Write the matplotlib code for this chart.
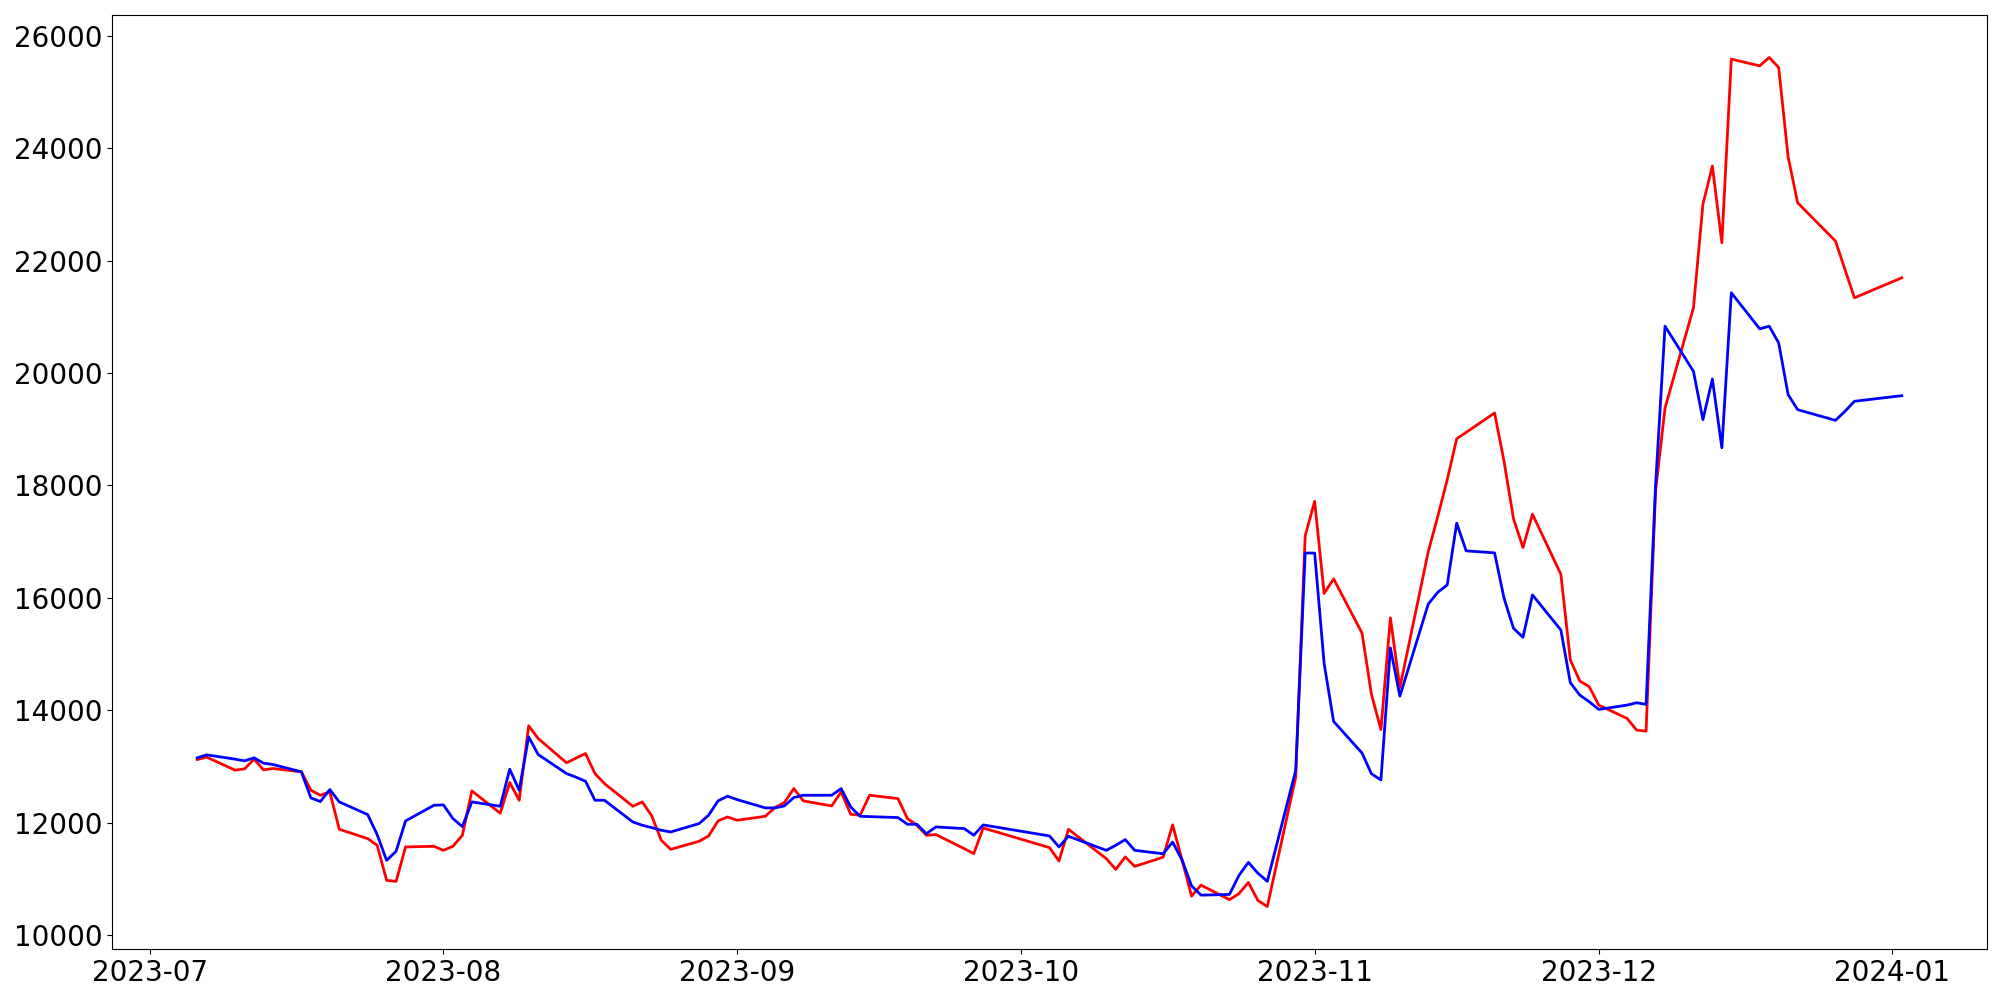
# Importing the libraries
import numpy as np
import pandas as pd
import matplotlib
matplotlib.use("Agg")
import matplotlib.pyplot as plt

# Trading days shown on the chart
dates = [
    "2023-07-06", "2023-07-07", "2023-07-10", "2023-07-11", "2023-07-12", "2023-07-13", "2023-07-14",
    "2023-07-17", "2023-07-18", "2023-07-19", "2023-07-20", "2023-07-21",
    "2023-07-24", "2023-07-25", "2023-07-26", "2023-07-27", "2023-07-28",
    "2023-07-31", "2023-08-01", "2023-08-02", "2023-08-03", "2023-08-04",
    "2023-08-07", "2023-08-08", "2023-08-09", "2023-08-10", "2023-08-11",
    "2023-08-14", "2023-08-15", "2023-08-16", "2023-08-17", "2023-08-18",
    "2023-08-21", "2023-08-22", "2023-08-23", "2023-08-24", "2023-08-25",
    "2023-08-28", "2023-08-29", "2023-08-30", "2023-08-31", "2023-09-01",
    "2023-09-04", "2023-09-05", "2023-09-06", "2023-09-07", "2023-09-08",
    "2023-09-11", "2023-09-12", "2023-09-13", "2023-09-14", "2023-09-15",
    "2023-09-18", "2023-09-19", "2023-09-20", "2023-09-21", "2023-09-22",
    "2023-09-25", "2023-09-26", "2023-09-27",
    "2023-10-04", "2023-10-05", "2023-10-06",
    "2023-10-10", "2023-10-11", "2023-10-12", "2023-10-13",
    "2023-10-16", "2023-10-17", "2023-10-18", "2023-10-19", "2023-10-20",
    "2023-10-23", "2023-10-24", "2023-10-25", "2023-10-26", "2023-10-27",
    "2023-10-30", "2023-10-31", "2023-11-01", "2023-11-02", "2023-11-03",
    "2023-11-06", "2023-11-07", "2023-11-08", "2023-11-09", "2023-11-10",
    "2023-11-13", "2023-11-14", "2023-11-15", "2023-11-16", "2023-11-17",
    "2023-11-20", "2023-11-21", "2023-11-22", "2023-11-23", "2023-11-24",
    "2023-11-27", "2023-11-28", "2023-11-29", "2023-11-30", "2023-12-01",
    "2023-12-04", "2023-12-05", "2023-12-06", "2023-12-07", "2023-12-08",
    "2023-12-11", "2023-12-12", "2023-12-13", "2023-12-14", "2023-12-15",
    "2023-12-18", "2023-12-19", "2023-12-20", "2023-12-21", "2023-12-22",
    "2023-12-26", "2023-12-27", "2023-12-28", "2024-01-02",
]

red_values = [
    13124, 13166, 12934, 12958, 13130, 12940, 12964,
    12904, 12578, 12488, 12548, 11883,
    11716, 11598, 10974, 10956, 11568,
    11580, 11508, 11580, 11776, 12566,
    12168, 12714, 12399, 13724, 13498,
    13065, 13148, 13231, 12874, 12696,
    12292, 12370, 12120, 11687, 11526,
    11669, 11764, 12031, 12102, 12043,
    12114, 12269, 12358, 12607, 12388,
    12298, 12548, 12150, 12132, 12488,
    12429, 12073, 11954, 11776, 11788,
    11538, 11449, 11906,
    11556, 11318, 11883,
    11360, 11170, 11390, 11223,
    11386, 11962, 11336, 10693, 10889,
    10631, 10736, 10937, 10618, 10508,
    12810, 17104, 17717, 16079, 16338,
    15374, 14282, 13656, 15643, 14404,
    16824, 17448, 18101, 18831, 18944,
    19289, 18427, 17406, 16895, 17489,
    16420, 14894, 14520, 14419, 14092,
    13854, 13647, 13629, 17900, 19378,
    21159, 23000, 23683, 22318, 25584,
    25465, 25614, 25435, 23844, 23030,
    22347, 21842, 21338, 21694,
]

blue_values = [
    13154, 13207, 13130, 13100, 13154, 13059, 13035,
    12904, 12441, 12376, 12589, 12370,
    12144, 11788, 11330, 11491, 12031,
    12310, 12316, 12073, 11930, 12370,
    12292, 12952, 12578, 13528, 13213,
    12874, 12809, 12738, 12399, 12399,
    12013, 11954, 11912, 11865, 11835,
    11984, 12132, 12388, 12471, 12411,
    12263, 12263, 12298, 12447, 12488,
    12488, 12607, 12281, 12114, 12108,
    12091, 11972, 11972, 11805, 11924,
    11895, 11776, 11960,
    11764, 11568, 11758,
    11508, 11598, 11699, 11508,
    11447, 11655, 11336, 10877, 10711,
    10723, 11060, 11294, 11103, 10957,
    12931, 16797, 16797, 14834, 13802,
    13239, 12870, 12760, 15110, 14251,
    15891, 16099, 16230, 17329, 16836,
    16800, 15992, 15458, 15298, 16052,
    15428, 14490, 14270, 14151, 14015,
    14092, 14134, 14104, 18000, 20833,
    20031, 19170, 19894, 18670, 21427,
    20785, 20833, 20536, 19615, 19348,
    19158, 19318, 19497, 19597,
]

x = pd.to_datetime(dates)

# Plotting both series
fig, ax = plt.subplots(figsize=(20, 10), dpi=100)
ax.plot(x, red_values, color='red', linewidth=2)
ax.plot(x, blue_values, color='blue', linewidth=2)
ax.tick_params(labelsize=20)

plt.subplots_adjust(left=0.056, right=0.9935, bottom=0.051, top=0.985)
plt.savefig("out.png")
